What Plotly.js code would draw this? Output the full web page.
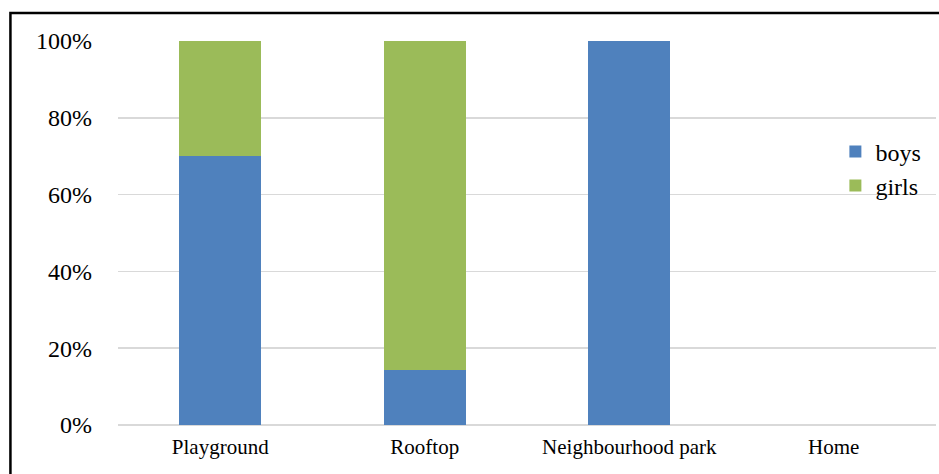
<!DOCTYPE html>
<html>
<head>
<meta charset="utf-8">
<script src="https://cdn.plot.ly/plotly-3.0.1.min.js"></script>
<style>
html,body{margin:0;padding:0;background:#fff;}
#chart{width:939px;height:474px;}
</style>
</head>
<body>
<div id="chart"></div>
<script>
const categories = ["Playground", "Rooftop", "Neighbourhood park", "Home"];
const boys = [70, 14.3, 100, 0];
const girls = [30, 85.7, 0, 0];
const yTickVals = [0, 20, 40, 60, 80, 100];
const yTickText = ["0%", "20%", "40%", "60%", "80%", "100%"];

const SERIF = "Liberation Serif";

const data = [
  {type: "bar", name: "boys", x: categories, y: boys,
   marker: {color: "#4f81bd"}, hoverinfo: "none"},
  {type: "bar", name: "girls", x: categories, y: girls,
   marker: {color: "#9bbb59"}, hoverinfo: "none"}
];

const layout = {
  width: 939, height: 474,
  margin: {l: 118, r: 3, t: 41, b: 49},
  paper_bgcolor: "#fff", plot_bgcolor: "#fff",
  barmode: "stack", bargap: 0.6,
  font: {family: SERIF, color: "#000"},
  xaxis: {
    type: "category",
    tickfont: {size: 21, family: SERIF, color: "#000"},
    showgrid: false, zeroline: false, showline: false, ticks: "",
    ticklabelstandoff: 7
  },
  yaxis: {
    range: [0, 100],
    tickvals: yTickVals, ticktext: yTickText,
    tickfont: {size: 24, family: SERIF, color: "#000"},
    showgrid: true, gridcolor: "#d9d9d9", gridwidth: 1.5,
    zeroline: true, zerolinecolor: "#d9d9d9", zerolinewidth: 1.5,
    showline: false, ticks: "", ticklabelstandoff: 25
  },
  legend: {
    x: 0.877, y: 0.77, xanchor: "left", yanchor: "top",
    font: {size: 24, family: SERIF, color: "#000"},
    bgcolor: "rgba(0,0,0,0)", itemwidth: 30, tracegroupgap: 0,
    traceorder: "normal"
  },
  showlegend: true,
  shapes: [{
    type: "rect", xref: "paper", yref: "paper",
    x0: -0.1315, x1: 1.02, y0: -0.16, y1: 1.0729,
    line: {color: "#000", width: 2.5}, fillcolor: "rgba(0,0,0,0)", layer: "above"
  }]
};

Plotly.newPlot("chart", data, layout, {displayModeBar: false, staticPlot: true});
</script>
</body>
</html>
